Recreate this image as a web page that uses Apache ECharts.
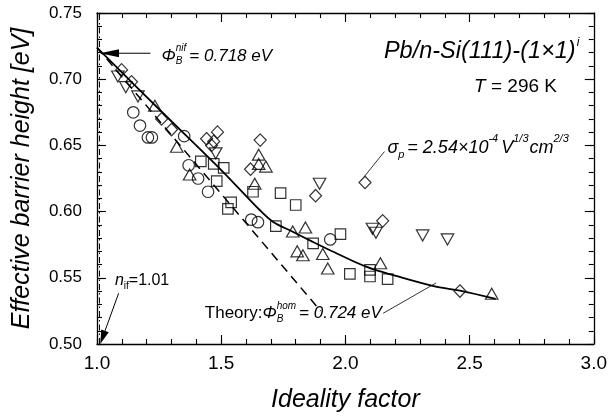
<!DOCTYPE html>
<html><head><meta charset="utf-8">
<script src="https://cdn.jsdelivr.net/npm/echarts@6/dist/echarts.min.js"></script>
<style>html,body{margin:0;padding:0;background:#fff}#c{width:610px;height:417px}</style>
</head><body><div id="c"></div>
<script>
// ---------- data ----------
const xTickLabels = ['1.0', '1.5', '2.0', '2.5', '3.0'];
const yTickLabels = ['0.50', '0.55', '0.60', '0.65', '0.70', '0.75'];

const circleX = [1.146, 1.173, 1.205, 1.221, 1.351, 1.369, 1.407, 1.447, 1.621, 1.648, 1.939];
const circleY = [0.675, 0.665, 0.656, 0.656, 0.657, 0.635, 0.625, 0.615, 0.594, 0.592, 0.579];

const squareX = [1.418, 1.470, 1.510, 1.482, 1.628, 1.739, 1.800, 1.540, 1.527, 1.720, 1.870, 1.980, 2.018, 2.099, 2.099, 2.170];
const squareY = [0.638, 0.636, 0.633, 0.623, 0.615, 0.614, 0.605, 0.607, 0.602, 0.589, 0.576, 0.583, 0.553, 0.556, 0.551, 0.549];

const diamondX = [1.099, 1.139, 1.260, 1.300, 1.441, 1.485, 1.470, 1.461, 1.657, 1.618, 1.880, 2.079, 2.150, 2.461];
const diamondY = [0.707, 0.698, 0.670, 0.662, 0.655, 0.660, 0.653, 0.650, 0.654, 0.632, 0.612, 0.622, 0.593, 0.540];

const triUpX = [1.233, 1.321, 1.373, 1.651, 1.651, 1.680, 1.635, 1.788, 1.839, 1.806, 1.829, 1.909, 1.929, 2.141, 2.589];
const triUpY = [0.680, 0.649, 0.628, 0.643, 0.636, 0.634, 0.621, 0.585, 0.588, 0.570, 0.567, 0.568, 0.557, 0.561, 0.538];

const triDownX = [1.084, 1.116, 1.165, 1.478, 1.896, 2.109, 2.123, 2.311, 2.411];
const triDownY = [0.702, 0.694, 0.687, 0.644, 0.621, 0.587, 0.584, 0.582, 0.579];

const fitX = [1.000, 1.249, 1.500, 1.655, 1.708, 1.788, 1.867, 1.936, 2.083, 2.204, 2.364, 2.461, 2.605];
const fitY = [0.7238, 0.6775, 0.6314, 0.6012, 0.5924, 0.5848, 0.5773, 0.5710, 0.5584, 0.5514, 0.5433, 0.5403, 0.5340];

const theoryX = [1.000, 1.900];
const theoryY = [0.724, 0.525];

const nIfX = [1.01, 1.01];
const nIfY = [0.50, 0.75];

// ---------- helpers ----------
const FONT = '"Liberation Sans", Arial, Helvetica, sans-serif';
const zip = (a, b) => a.map((v, i) => [v, b[i]]);
const ctx = document.createElement('canvas').getContext('2d');
function tw(t, s, it) { ctx.font = (it ? 'italic ' : '') + s + 'px ' + FONT; return ctx.measureText(t).width; }
function textEl(x, y, t, s, it, opts) {
  opts = opts || {};
  return {
    type: 'text', x: x, y: y, rotation: opts.rotation || 0, silent: true,
    style: {
      text: t, fontSize: s, fontStyle: it ? 'italic' : 'normal', fontFamily: FONT, fill: '#000',
      textAlign: opts.align || 'left', textVerticalAlign: 'middle', align: opts.align || 'left', verticalAlign: 'middle'
    }
  };
}
function rich(x, y, segs) {
  const els = []; let cx = x; let stackW = 0;
  segs.forEach(sg => {
    const w = tw(sg.t, sg.s, sg.it);
    els.push(textEl(cx, y + (sg.dy || 0) * sg.s, sg.t, sg.s, sg.it));
    if (sg.stack) { stackW = Math.max(stackW, w); }
    else { cx += Math.max(w, stackW) + (sg.gap || 0); stackW = 0; }
  });
  return els;
}
function arrow(p0, p1, L, W) {
  const dx = p1[0] - p0[0], dy = p1[1] - p0[1];
  const d = Math.hypot(dx, dy), ux = dx / d, uy = dy / d;
  const bx = p1[0] - ux * L, by = p1[1] - uy * L;
  return [
    { type: 'line', silent: true, shape: { x1: p0[0], y1: p0[1], x2: bx, y2: by }, style: { stroke: '#000', lineWidth: 1 } },
    { type: 'polygon', silent: true, shape: { points: [[p1[0], p1[1]], [bx - uy * W, by + ux * W], [bx + uy * W, by - ux * W]] }, style: { fill: '#000' } }
  ];
}

// ---------- chart ----------
const chart = echarts.init(document.getElementById('c'), null, { renderer: 'canvas' });
const tickStyle = { color: '#000', width: 1.1 };
function xAx(pos, interval, len, withLine, label) {
  return {
    type: 'value', min: 1, max: 3, interval: interval, position: pos,
    axisLine: { show: withLine, onZero: false, lineStyle: { color: '#000', width: 1.3 } },
    axisTick: { show: true, inside: true, length: len, lineStyle: tickStyle },
    minorTick: { show: false }, splitLine: { show: false },
    axisLabel: label || { show: false }
  };
}
function yAx(pos, interval, len, withLine, label) {
  return {
    type: 'value', min: 0.5, max: 0.75, interval: interval, position: pos,
    axisLine: { show: withLine, onZero: false, lineStyle: { color: '#000', width: 1.3 } },
    axisTick: { show: true, inside: true, length: len, lineStyle: tickStyle },
    minorTick: { show: false }, splitLine: { show: false },
    axisLabel: label || { show: false }
  };
}
const mk = () => ({ color: 'rgba(255,255,255,0)', borderColor: '#000', borderWidth: 1.2 });

chart.setOption({
  animation: false,
  backgroundColor: '#fff',
  grid: { left: 97, right: 15, top: 13, bottom: 73, containLabel: false, show: false },
  xAxis: [
    xAx('bottom', 0.5, 9, true, { show: true, margin: 10, fontSize: 19, color: '#000', fontFamily: FONT,
      formatter: v => xTickLabels[Math.round((v - 1) / 0.5)] }),
    xAx('top', 0.5, 9, true),
    xAx('bottom', 0.1, 5, false),
    xAx('top', 0.1, 5, false)
  ],
  yAxis: [
    yAx('left', 0.05, 9, true, { show: true, margin: 15, fontSize: 17, color: '#000', fontFamily: FONT,
      formatter: v => yTickLabels[Math.round((v - 0.5) / 0.05)] }),
    yAx('right', 0.05, 9, true),
    yAx('left', 0.01, 5, false),
    yAx('right', 0.01, 5, false)
  ],
  series: [
    { type: 'line', data: zip(nIfX, nIfY), symbol: 'none', lineStyle: { color: '#000', width: 1, type: [6, 3, 1.5, 3] }, z: 1 },
    { type: 'line', data: zip(theoryX, theoryY), symbol: 'none', lineStyle: { color: '#000', width: 1.5, type: [9, 6] }, z: 2 },
    { type: 'line', data: zip(fitX, fitY), symbol: 'none', smooth: 0.35, lineStyle: { color: '#000', width: 1.8 }, z: 2 },
    { type: 'scatter', data: zip(circleX, circleY), symbol: 'circle', symbolSize: 11.5, itemStyle: mk(), z: 3 },
    { type: 'scatter', data: zip(squareX, squareY), symbol: 'rect', symbolSize: 10.5, itemStyle: mk(), z: 3 },
    { type: 'scatter', data: zip(diamondX, diamondY), symbol: 'diamond', symbolSize: [12, 12.5], itemStyle: mk(), z: 3 },
    { type: 'scatter', data: zip(triUpX, triUpY), symbol: 'triangle', symbolSize: [12.5, 11], itemStyle: mk(), z: 3 },
    { type: 'scatter', data: zip(triDownX, triDownY), symbol: 'triangle', symbolRotate: 180, symbolSize: [12.5, 11], itemStyle: mk(), z: 3 }
  ]
});

// ---------- annotations (positioned in data coordinates) ----------
const P = (x, y) => chart.convertToPixel({ gridIndex: 0 }, [x, y]);
const g = [];

// axis titles
g.push(textEl(22, P(1, 0.625)[1], 'Effective barrier height [eV]', 25, true, { align: 'center', rotation: Math.PI / 2 }));
g.push(textEl(P(2, 0.5)[0], 400, 'Ideality factor', 25, true, { align: 'center' }));

// Phi_B^nif
let a = P(1.26, 0.7175);
g.push(...rich(a[0], a[1], [
  { t: 'Φ', s: 17, it: true },
  { t: 'B', s: 10, it: true, dy: 0.55, stack: true },
  { t: 'nif', s: 10, it: true, dy: -0.75, gap: 3 },
  { t: '= 0.718 eV', s: 17, it: true }
]));
g.push(...arrow(P(1.215, 0.7196), P(1.012, 0.7196), 19, 4));

// title
a = P(2.155, 0.721);
g.push(...rich(a[0], a[1], [
  { t: 'Pb/n-Si(111)-(1×1)', s: 23.5, it: true, gap: 1 },
  { t: 'i', s: 12, it: true, dy: -0.75 }
]));
a = P(2.518, 0.6946);
g.push(...rich(a[0], a[1], [
  { t: 'T', s: 19, it: true },
  { t: ' = 296 K', s: 19, it: false }
]));

// sigma_p
a = P(2.169, 0.648);
g.push(...rich(a[0], a[1], [
  { t: 'σ', s: 18, it: true },
  { t: 'p', s: 11, it: true, dy: 0.6, gap: 3 },
  { t: '= 2.54×10', s: 18, it: true },
  { t: '-4', s: 11, it: true, dy: -0.8, gap: 3 },
  { t: 'V', s: 18, it: true },
  { t: '1/3', s: 11, it: true, dy: -0.8, gap: 1 },
  { t: 'cm', s: 18, it: true },
  { t: '2/3', s: 11, it: true, dy: -0.8 }
]));
let l0 = P(2.076, 0.6264), l1 = P(2.157, 0.6453);
g.push({ type: 'line', silent: true, shape: { x1: l0[0], y1: l0[1], x2: l1[0], y2: l1[1] }, style: { stroke: '#000', lineWidth: 0.8 } });

// Theory
a = P(1.434, 0.5232);
g.push(...rich(a[0], a[1], [
  { t: 'Theory:', s: 17, it: false },
  { t: 'Φ', s: 17, it: true },
  { t: 'B', s: 10, it: true, dy: 0.55, stack: true },
  { t: 'hom', s: 10, it: true, dy: -0.75, gap: 3 },
  { t: '= 0.724 eV', s: 17, it: true }
]));
l0 = P(2.152, 0.5232); l1 = P(2.365, 0.5461);
g.push({ type: 'line', silent: true, shape: { x1: l0[0], y1: l0[1], x2: l1[0], y2: l1[1] }, style: { stroke: '#000', lineWidth: 0.8 } });

// n_if
a = P(1.072, 0.548);
g.push(...rich(a[0], a[1], [
  { t: 'n', s: 16, it: true },
  { t: 'if', s: 10, it: false, dy: 0.6 },
  { t: '=1.01', s: 16, it: false }
]));
g.push(...arrow(P(1.087, 0.5383), P(1.013, 0.5), 14, 4));

chart.setOption({ graphic: { elements: g } });
</script>
</body></html>
